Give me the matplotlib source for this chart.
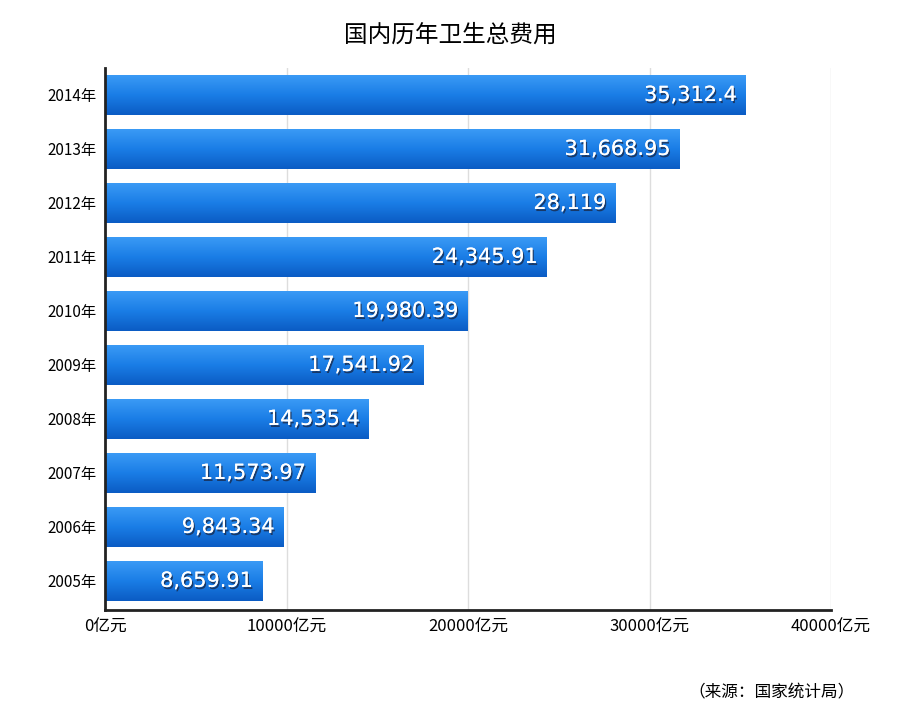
import numpy as np
import matplotlib.pyplot as plt
import matplotlib.patheffects as pe

plt.rcParams['font.family'] = ['Noto Sans CJK SC', 'DejaVu Sans']

years = ['2005年', '2006年', '2007年', '2008年', '2009年', '2010年',
         '2011年', '2012年', '2013年', '2014年']
values = [8659.91, 9843.34, 11573.97, 14535.4, 17541.92, 19980.39,
          24345.91, 28119, 31668.95, 35312.4]
labels = ['8,659.91', '9,843.34', '11,573.97', '14,535.4', '17,541.92',
          '19,980.39', '24,345.91', '28,119', '31,668.95', '35,312.4']
xticks = [0, 10000, 20000, 30000, 40000]
xticklabels = ['0亿元', '10000亿元', '20000亿元', '30000亿元', '40000亿元']

fig = plt.figure(figsize=(9, 7.23), dpi=100)
ax = fig.add_axes([105/900, 1-610/723, 726/900, 542/723])

# vertical gradient: light on top, darker at bottom
grad = np.linspace(0, 1, 64).reshape(-1, 1)
cmap = plt.matplotlib.colors.LinearSegmentedColormap.from_list(
    'blu', ['#0b5cc4', '#1a7de6', '#3a9af5'])
h = 0.74
for i, v in enumerate(values):
    ax.imshow(grad, extent=[0, v, i - h/2, i + h/2], cmap=cmap,
              aspect='auto', origin='lower', zorder=2)
    ax.text(v - 500, i, labels[i], ha='right', va='center', color='white',
            fontsize=15, zorder=3, family='DejaVu Sans',
            path_effects=[pe.withSimplePatchShadow(offset=(1, -1.5), shadow_rgbFace='#1a2a4a', alpha=0.8), pe.Normal()])

ax.set_xlim(0, 40000)
ax.set_ylim(-0.54, 9.5)
ax.set_yticks(range(len(years)))
ax.set_yticklabels(years, fontsize=11)
ax.set_xticks(xticks)
ax.set_xticklabels(xticklabels, fontsize=12)
ax.tick_params(length=0, pad=6)
ax.grid(axis='x', color='#dddddd', linewidth=1, zorder=0)
ax.set_axisbelow(True)
for s in ['top', 'right']:
    ax.spines[s].set_visible(False)
ax.spines['left'].set_linewidth(2)
ax.spines['bottom'].set_linewidth(2)
ax.spines['left'].set_color('#222222')
ax.spines['bottom'].set_color('#222222')

fig.text(0.5, 1-35/723, '国内历年卫生总费用', ha='center', va='center', fontsize=17)
fig.text(855/900, 1-693/723, '（来源：国家统计局）', ha='right', va='center', fontsize=12)

fig.savefig('out.png', dpi=100)
